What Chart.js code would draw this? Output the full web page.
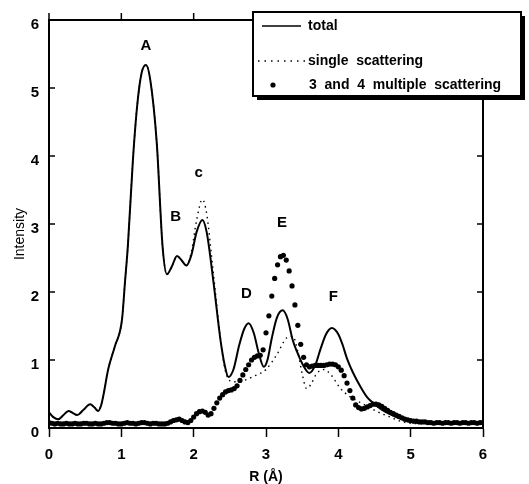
<!DOCTYPE html>
<html><head><meta charset="utf-8">
<script src="https://cdn.jsdelivr.net/npm/chart.js@4.4.1/dist/chart.umd.min.js"></script>
<style>html,body{margin:0;padding:0;background:#fff}#wrap{width:529px;height:484px;position:relative}</style>
</head><body><div id="wrap"><canvas id="c"></canvas></div>
<script>
// ---- data ----
const rTotal = [0.00,0.06,0.13,0.20,0.27,0.33,0.39,0.47,0.57,0.63,0.68,0.72,0.75,0.82,0.91,1.01,1.05,1.09,1.16,1.22,1.28,1.34,1.40,1.49,1.57,1.63,1.70,1.77,1.83,1.90,1.97,2.04,2.12,2.18,2.27,2.37,2.43,2.48,2.55,2.63,2.70,2.76,2.83,2.90,2.97,3.02,3.08,3.15,3.23,3.30,3.37,3.43,3.51,3.60,3.68,3.75,3.83,3.91,4.00,4.06,4.12,4.20,4.31,4.40,4.49,4.60,4.72,4.85,4.96,5.10,5.50,6.00];
const total  = [0.23,0.16,0.13,0.19,0.25,0.22,0.19,0.26,0.35,0.30,0.25,0.33,0.47,0.87,1.20,1.60,2.14,2.67,3.94,4.75,5.22,5.34,5.12,4.19,2.67,2.26,2.38,2.53,2.47,2.39,2.55,2.88,3.06,2.88,2.18,1.30,0.92,0.75,0.86,1.22,1.46,1.54,1.40,1.10,0.90,1.00,1.32,1.62,1.73,1.60,1.29,1.12,0.93,0.81,0.92,1.15,1.38,1.47,1.38,1.22,1.02,0.82,0.60,0.45,0.36,0.27,0.20,0.14,0.10,0.08,0.07,0.07];

const rSingle = [0.00,0.06,0.13,0.20,0.27,0.33,0.39,0.47,0.57,0.63,0.68,0.72,0.75,0.82,0.91,1.01,1.05,1.09,1.16,1.22,1.28,1.34,1.40,1.49,1.57,1.63,1.70,1.77,1.83,1.90,1.97,2.04,2.12,2.18,2.27,2.37,2.43,2.48,2.55,2.70,2.85,3.00,3.15,3.29,3.37,3.44,3.50,3.56,3.62,3.70,3.80,3.90,4.03,4.15,4.26,4.40,4.58,4.72,4.86,5.00,5.50,6.00];
const single  = [0.23,0.16,0.13,0.19,0.25,0.22,0.19,0.26,0.35,0.30,0.25,0.33,0.47,0.87,1.20,1.60,2.14,2.67,3.94,4.75,5.22,5.34,5.12,4.19,2.67,2.26,2.38,2.53,2.47,2.39,2.60,3.05,3.36,3.15,2.30,1.32,0.88,0.72,0.68,0.70,0.77,0.86,1.08,1.33,1.35,1.12,0.80,0.58,0.64,0.80,0.86,0.78,0.58,0.47,0.40,0.32,0.22,0.16,0.10,0.07,0.06,0.06];

const rMulti = [
 0.00,0.04,0.08,0.12,0.16,0.20,0.24,0.28,0.32,0.36,0.40,0.44,0.48,0.52,0.56,0.60,0.64,0.68,0.72,0.76,
 0.80,0.84,0.88,0.92,0.96,1.00,1.04,1.08,1.12,1.16,1.20,1.24,1.28,1.32,1.36,1.40,1.44,1.48,1.52,1.56,
 1.60,1.64,1.68,1.72,1.76,1.80,1.84,1.88,1.92,1.96,2.00,2.04,2.08,2.12,2.16,2.20,2.24,2.28,2.32,2.36,
 2.40,2.44,2.48,2.52,2.56,2.60,2.64,2.68,2.72,2.76,2.80,2.84,2.88,2.92,2.96,3.00,3.04,3.08,3.12,3.16,
 3.20,3.24,3.28,3.32,3.36,3.40,3.44,3.48,3.52,3.56,3.60,3.64,3.68,3.72,3.76,3.80,3.84,3.88,3.92,3.96,
 4.00,4.04,4.08,4.12,4.16,4.20,4.24,4.28,4.32,4.36,4.40,4.44,4.48,4.52,4.56,4.60,4.64,4.68,4.72,4.76,
 4.80,4.84,4.88,4.92,4.96,5.00,5.04,5.08,5.12,5.16,5.20,5.24,5.28,5.32,5.36,5.40,5.44,5.48,5.52,5.56,
 5.60,5.64,5.68,5.72,5.76,5.80,5.84,5.88,5.92,5.96,6.00];
const multi = [
 0.08,0.07,0.06,0.07,0.06,0.06,0.07,0.06,0.06,0.07,0.06,0.06,0.07,0.07,0.06,0.06,0.07,0.06,0.06,0.07,
 0.08,0.08,0.07,0.07,0.06,0.06,0.07,0.08,0.07,0.07,0.06,0.07,0.08,0.08,0.07,0.06,0.07,0.07,0.06,0.06,
 0.06,0.07,0.09,0.11,0.12,0.13,0.11,0.09,0.08,0.11,0.16,0.21,0.24,0.25,0.23,0.19,0.21,0.29,0.37,0.44,
 0.49,0.53,0.55,0.56,0.58,0.62,0.70,0.78,0.86,0.93,1.00,1.04,1.06,1.07,1.15,1.40,1.65,1.94,2.20,2.40,
 2.52,2.54,2.47,2.31,2.09,1.81,1.51,1.23,1.04,0.93,0.90,0.91,0.92,0.92,0.92,0.92,0.93,0.94,0.94,0.93,
 0.90,0.85,0.77,0.66,0.55,0.44,0.34,0.30,0.28,0.29,0.31,0.33,0.35,0.35,0.34,0.32,0.29,0.26,0.23,0.21,
 0.19,0.17,0.15,0.13,0.12,0.11,0.10,0.10,0.09,0.09,0.09,0.08,0.08,0.07,0.08,0.08,0.07,0.08,0.08,0.07,
 0.08,0.08,0.07,0.08,0.08,0.07,0.08,0.08,0.07,0.08,0.08];

const xTicks = [0,1,2,3,4,5,6];
const yTicks = [0,1,2,3,4,5,6];
const peakLabels = ['A','B','c','D','E','F'];
const peakR = [1.34,1.75,2.07,2.73,3.22,3.93];
const peakY = [5.62,3.10,3.75,1.97,3.02,1.93];
const legendLabels = ['total','single  scattering','3  and  4  multiple  scattering'];

// ---- chart ----
const FONT = 'Liberation Sans';
const pts = (xs, ys) => xs.map((x, i) => ({x: x, y: ys[i]}));

const decorPlugin = {
  id: 'decor',
  afterDatasetsDraw(chart) {
    const {ctx, chartArea: ca, scales} = chart;
    const xs = scales.x, ys = scales.y;
    ctx.save();
    // frame top and right
    ctx.strokeStyle = '#000'; ctx.lineWidth = 2;
    ctx.beginPath();
    ctx.moveTo(ca.left - 1, ca.top); ctx.lineTo(ca.right, ca.top); ctx.lineTo(ca.right, ca.bottom);
    ctx.stroke();
    // ticks
    ctx.lineWidth = 1.5;
    ctx.beginPath();
    yTicks.forEach(v => {
      const py = ys.getPixelForValue(v);
      ctx.moveTo(ca.left, py); ctx.lineTo(ca.left + 6, py);
      ctx.moveTo(ca.right, py); ctx.lineTo(ca.right - 6, py);
    });
    xTicks.forEach(v => {
      const px = xs.getPixelForValue(v);
      ctx.moveTo(px, ca.top); ctx.lineTo(px, ca.top - 7);
    });
    ctx.stroke();
    // peak labels
    ctx.fillStyle = '#000';
    ctx.font = 'bold 15px "' + FONT + '"';
    ctx.textAlign = 'center'; ctx.textBaseline = 'middle';
    peakLabels.forEach((t, i) => {
      ctx.fillText(t, xs.getPixelForValue(peakR[i]), ys.getPixelForValue(peakY[i]));
    });
    // y title
    ctx.save();
    ctx.translate(20, 234);
    ctx.rotate(-Math.PI / 2);
    ctx.font = '14px "' + FONT + '"';
    ctx.fillText('Intensity', 0, 0);
    ctx.restore();
    // legend box
    ctx.fillStyle = '#000';
    ctx.fillRect(257, 16, 268, 84);
    ctx.fillStyle = '#fff';
    ctx.fillRect(253, 12, 268, 84);
    ctx.strokeStyle = '#000'; ctx.lineWidth = 2;
    ctx.strokeRect(253, 12, 268, 84);
    // legend samples
    ctx.lineWidth = 1.5;
    ctx.beginPath(); ctx.moveTo(262, 26); ctx.lineTo(301, 26); ctx.stroke();
    ctx.setLineDash([1.5, 5]);
    ctx.beginPath(); ctx.moveTo(258, 61); ctx.lineTo(305, 61); ctx.stroke();
    ctx.setLineDash([]);
    ctx.fillStyle = '#000';
    ctx.beginPath(); ctx.arc(273, 85, 2.6, 0, Math.PI * 2); ctx.fill();
    ctx.font = 'bold 14px "' + FONT + '"';
    ctx.textAlign = 'left'; ctx.textBaseline = 'middle';
    ctx.fillText(legendLabels[0], 308, 26);
    ctx.fillText(legendLabels[1], 308, 61);
    ctx.fillText(legendLabels[2], 309, 85);
    ctx.restore();
  }
};

new Chart(document.getElementById('c'), {
  type: 'scatter',
  data: {
    datasets: [
      {label: legendLabels[0], data: pts(rTotal, total), showLine: true, borderColor: '#000', borderWidth: 2,
       pointRadius: 0, cubicInterpolationMode: 'monotone'},
      {label: legendLabels[1], data: pts(rSingle, single), showLine: true, borderColor: '#000', borderWidth: 1.4,
       borderDash: [1.5, 4], pointRadius: 0, cubicInterpolationMode: 'monotone'},
      {label: legendLabels[2], data: pts(rMulti, multi), showLine: false, pointRadius: 2.6,
       pointBackgroundColor: '#000', pointBorderWidth: 0}
    ]
  },
  options: {
    responsive: true, maintainAspectRatio: false, animation: false,
    layout: {padding: {top: 20, right: 46, left: 0, bottom: 0}},
    plugins: {legend: {display: false}, tooltip: {enabled: false}},
    scales: {
      x: {
        type: 'linear', min: 0, max: 6,
        afterBuildTicks: s => { s.ticks = xTicks.map(v => ({value: v})); },
        afterFit: s => { s.height = 56; },
        ticks: {font: {family: FONT, weight: 'bold', size: 15}, color: '#000', padding: 9, maxRotation: 0},
        grid: {display: true, drawOnChartArea: false, drawTicks: true, tickLength: 9, tickWidth: 1.5, tickColor: '#000'},
        border: {display: true, color: '#000', width: 2},
        title: {display: true, text: 'R (Å)', color: '#000', font: {family: FONT, weight: 'bold', size: 14, lineHeight: 1}, padding: {top: 0, bottom: 0}}
      },
      y: {
        type: 'linear', min: 0, max: 6,
        afterBuildTicks: s => { s.ticks = yTicks.map(v => ({value: v})); },
        afterFit: s => { s.width = 49; },
        ticks: {font: {family: FONT, weight: 'bold', size: 15}, color: '#000', padding: 10, labelOffset: 5},
        grid: {display: true, drawOnChartArea: false, drawTicks: false},
        border: {display: true, color: '#000', width: 2}
      }
    }
  },
  plugins: [decorPlugin]
});
</script>
</body></html>
